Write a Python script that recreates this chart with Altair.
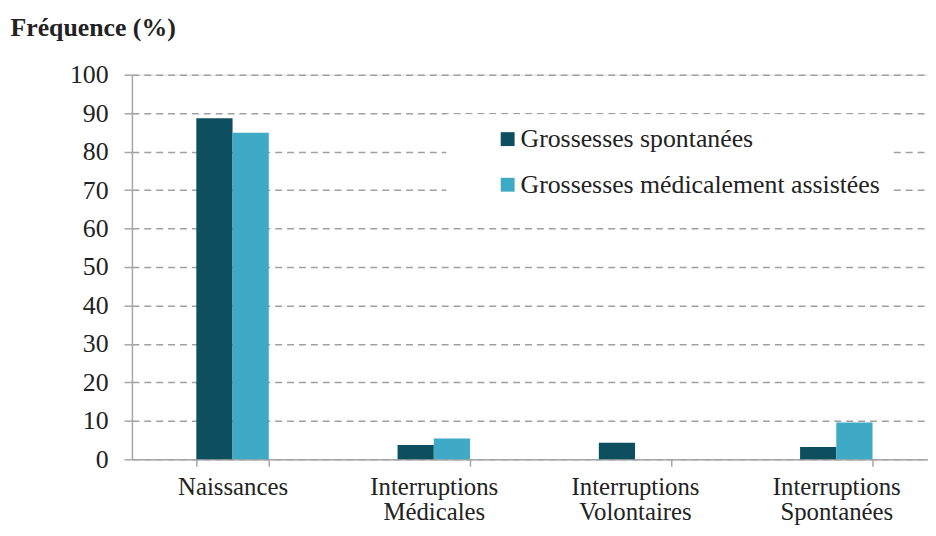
import altair as alt
import pandas as pd

categories = ["Naissances", "Interruptions Médicales", "Interruptions Volontaires", "Interruptions Spontanées"]
series = ["Grossesses spontanées", "Grossesses médicalement assistées"]
spontanees = [88.7, 3.7, 4.3, 3.2]
assistees = [84.9, 5.4, 0.0, 9.6]
y_ticks = [0, 10, 20, 30, 40, 50, 60, 70, 80, 90, 100]
colors = ["#0e4f5f", "#3eaac6"]

rows = []
for i, c in enumerate(categories):
    rows.append({"categorie": c, "groupe": series[0], "valeur": spontanees[i]})
    rows.append({"categorie": c, "groupe": series[1], "valeur": assistees[i]})
df = pd.DataFrame(rows)

font = "'Liberation Serif', 'Times New Roman', Times, 'DejaVu Serif', serif"
txt = "#222222"
axis_gray = "#a6a6a6"

chart = alt.Chart(df).mark_bar().encode(
    x=alt.X(
        "categorie:N",
        sort=categories,
        scale=alt.Scale(range=[0, 812], paddingInner=0.64, paddingOuter=0.32),
        axis=alt.Axis(
            title=None, labelAngle=0, labelExpr="split(datum.label, ' ')",
            tickBand="extent", grid=False, domainColor=axis_gray, domainWidth=1.5,
            tickColor=axis_gray, tickWidth=1.5, tickSize=7,
            labelFont=font, labelFontSize=25, labelColor=txt,
            labelLineHeight=26, labelPadding=8, labelLimit=300,
        ),
    ),
    xOffset=alt.XOffset("groupe:N", sort=series, scale=alt.Scale(paddingInner=0, paddingOuter=0)),
    y=alt.Y(
        "valeur:Q",
        scale=alt.Scale(domain=[0, 100], nice=False),
        axis=alt.Axis(
            values=y_ticks, title="Fréquence (%)", titleAngle=0, titleAlign="left",
            titleBaseline="alphabetic", titleX=-123, titleY=-40,
            titleFont=font, titleFontSize=26, titleFontWeight="bold", titleColor=txt,
            labelFont=font, labelFontSize=26, labelColor=txt, labelPadding=16,
            tickSize=8, tickColor=axis_gray, tickWidth=1.5,
            domainColor=axis_gray, domainWidth=1.5,
            gridColor="#a0a0a0", gridDash=[7, 5], gridWidth=1.5,
        ),
    ),
    color=alt.Color(
        "groupe:N",
        sort=series,
        scale=alt.Scale(domain=series, range=colors),
        legend=alt.Legend(
            orient="none", legendX=317, legendY=40, direction="vertical",
            title=None, fillColor="white", padding=12, rowPadding=20,
            symbolType="square", symbolSize=196, symbolOffset=37, symbolStrokeWidth=0,
            labelFont=font, labelFontSize=26, labelColor=txt, labelOffset=0,
            labelLimit=900,
        ),
    ),
).properties(
    width=803,
    height=388,
    padding={"left": 125, "top": 65, "right": 0, "bottom": 67},
    autosize=alt.AutoSizeParams(type="none"),
).configure_view(stroke=None).configure(background="white")

chart.save("out.html", embed_options={"renderer": "svg", "actions": False})
